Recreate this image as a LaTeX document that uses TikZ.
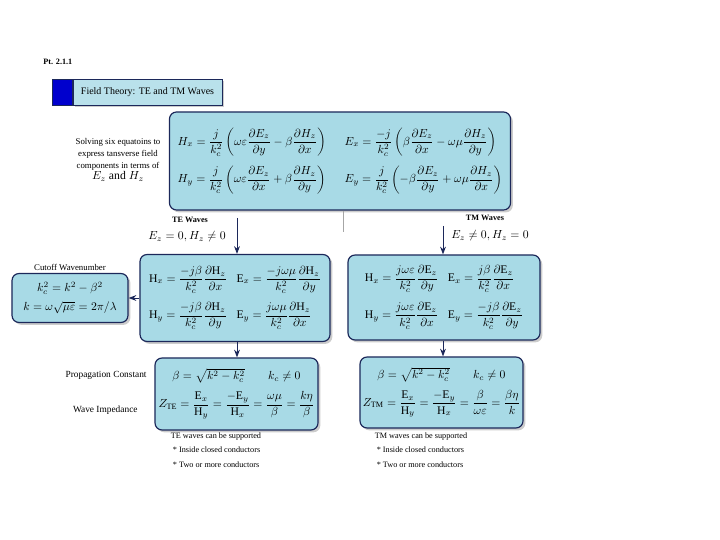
\documentclass[tikz,border=0pt]{standalone}
\usepackage{amsmath}
\usepackage{fontspec}
\setmainfont{Liberation Serif}
\usetikzlibrary{arrows.meta,positioning,shadows}
\definecolor{boxfill}{RGB}{168,218,230}
\definecolor{boxline}{RGB}{28,40,90}
\definecolor{tabblue}{RGB}{0,0,205}
\tikzset{
  wave/.style={rectangle, rounded corners=6pt, draw=boxline, line width=1pt, fill=boxfill, align=center, inner sep=2pt, font=\fontsize{10}{12}\selectfont, drop shadow={shadow xshift=2pt, shadow yshift=-2pt, fill=black!40}},
  titlebox/.style={rectangle, draw=boxline, line width=0.6pt, fill=boxfill!80, minimum width=4.47cm, minimum height=0.78cm, font=\fontsize{8.5}{10}\selectfont, drop shadow={shadow xshift=2pt, shadow yshift=-2pt, fill=black!40}},
  titletab/.style={rectangle, draw=boxline, line width=0.6pt, fill=tabblue, minimum width=0.6cm, minimum height=0.78cm, inner sep=0pt},
  lbl/.style={align=center, font=\fontsize{7.5}{10}\selectfont, inner sep=1pt},
  head/.style={font=\bfseries\fontsize{7}{8}\selectfont, inner sep=1pt},
  cond/.style={font=\fontsize{10}{12}\selectfont, inner sep=1pt},
  arr/.style={-Stealth, draw=boxline, line width=0.8pt}
}

\begin{document}
\begin{tikzpicture}[x=0.03cm, y=-0.03cm]
\useasboundingbox (0,0) rectangle (720,540);
\node[head, anchor=west] (part) at (42,62) {Pt. 2.1.1};
\node[titlebox] (title) at (147.5,92) {Field Theory: TE and TM Waves};
\node[titletab, left=0pt of title] (tab) {};
% general field components
\node[wave, minimum width=9.9cm, minimum height=2.94cm] (general) at (340,161) {$\begin{array}{l@{\hspace{16pt}}l}
H_x=\dfrac{j}{k_c^2}\left(\omega\varepsilon\dfrac{\partial E_z}{\partial y}-\beta\dfrac{\partial H_z}{\partial x}\right) &
E_x=\dfrac{-j}{k_c^2}\left(\beta\dfrac{\partial E_z}{\partial x}-\omega\mu\dfrac{\partial H_z}{\partial y}\right)\\[14pt]
H_y=\dfrac{j}{k_c^2}\left(\omega\varepsilon\dfrac{\partial E_z}{\partial x}+\beta\dfrac{\partial H_z}{\partial y}\right) &
E_y=\dfrac{j}{k_c^2}\left(-\beta\dfrac{\partial E_z}{\partial y}+\omega\mu\dfrac{\partial H_z}{\partial x}\right)
\end{array}$};
\node[lbl] (solve) at (118,160) {Solving six equatoins to\\express tansverse field\\components in terms of\\{\fontsize{10}{12}\selectfont $E_z$ and $H_z$}};
\coordinate (split) at (343,232);
\draw[gray!70, line width=0.6pt] (split |- general.south) -- (split);
% TE branch
\node[head] (telbl) at (190,220) {TE Waves};
\node[cond] (tecond) at (187,237) {$E_z=0, H_z\neq 0$};
\node[wave, minimum width=5.7cm, minimum height=2.61cm] (te) at (235,298) {$\begin{array}{l@{\hspace{8pt}}l}
\mathrm{H}_x=\dfrac{-j\beta}{k_c^2}\dfrac{\partial \mathrm{H}_z}{\partial x} &
\mathrm{E}_x=\dfrac{-j\omega\mu}{k_c^2}\dfrac{\partial \mathrm{H}_z}{\partial y}\\[14pt]
\mathrm{H}_y=\dfrac{-j\beta}{k_c^2}\dfrac{\partial \mathrm{H}_z}{\partial y} &
\mathrm{E}_y=\dfrac{j\omega\mu}{k_c^2}\dfrac{\partial \mathrm{H}_z}{\partial x}
\end{array}$};
\coordinate (tein) at (237,218);
\draw[arr] (tein) -- (tein |- te.north);
\node[lbl] (cutlbl) at (70,267) {Cutoff Wavenumber};
\node[wave, minimum width=3.48cm, minimum height=1.47cm] (cutoff) at (70,298) {$k_c^2=k^2-\beta^2$\\[4pt]$k=\omega\sqrt{\mu\varepsilon}=2\pi/\lambda$};
\draw[arr] (te.west) -- (cutoff.east);
\node[wave, minimum width=4.89cm, minimum height=2.16cm] (teprop) at (236.5,394) {$\beta=\sqrt{k^2-k_c^2}\qquad k_c\neq 0$\\[6pt]$Z_{\mathrm{TE}}=\dfrac{\mathrm{E}_x}{\mathrm{H}_y}=\dfrac{-\mathrm{E}_y}{\mathrm{H}_x}=\dfrac{\omega\mu}{\beta}=\dfrac{k\eta}{\beta}$};
\draw[arr] (tein |- te.south) -- (tein |- teprop.north);
\node[lbl, anchor=east, font=\fontsize{8}{10}\selectfont] (proplbl) at (148,375) {Propagation Constant};
\node[lbl, anchor=east, font=\fontsize{8}{10}\selectfont] (implbl) at (139,410) {Wave Impedance};
\node[lbl, align=left, anchor=north, font=\fontsize{7}{12.5}\selectfont] (tenote) at (216,431) {TE waves can be supported\\\ * Inside closed conductors\\\ * Two or more conductors};
% TM branch
\node[head] (tmlbl) at (485,218) {TM Waves};
\node[cond] (tmcond) at (490,236) {$E_z\neq 0, H_z=0$};
\node[wave, minimum width=5.76cm, minimum height=2.55cm] (tm) at (444,297.5) {$\begin{array}{l@{\hspace{8pt}}l}
\mathrm{H}_x=\dfrac{j\omega\varepsilon}{k_c^2}\dfrac{\partial \mathrm{E}_z}{\partial y} &
\mathrm{E}_x=\dfrac{j\beta}{k_c^2}\dfrac{\partial \mathrm{E}_z}{\partial x}\\[14pt]
\mathrm{H}_y=\dfrac{j\omega\varepsilon}{k_c^2}\dfrac{\partial \mathrm{E}_z}{\partial x} &
\mathrm{E}_y=\dfrac{-j\beta}{k_c^2}\dfrac{\partial \mathrm{E}_z}{\partial y}
\end{array}$};
\coordinate (tmin) at (443,226);
\draw[arr] (tmin) -- (tmin |- tm.north);
\node[wave, minimum width=4.89cm, minimum height=2.13cm] (tmprop) at (441.5,392.5) {$\beta=\sqrt{k^2-k_c^2}\qquad k_c\neq 0$\\[6pt]$Z_{\mathrm{TM}}=\dfrac{\mathrm{E}_x}{\mathrm{H}_y}=\dfrac{-\mathrm{E}_y}{\mathrm{H}_x}=\dfrac{\beta}{\omega\varepsilon}=\dfrac{\beta\eta}{k}$};
\draw[arr] (tmin |- tm.south) -- (tmin |- tmprop.north);
\node[lbl, align=left, anchor=north, font=\fontsize{7}{12.5}\selectfont] (tmnote) at (421,431) {TM waves can be supported\\\ * Inside closed conductors\\\ * Two or more conductors};
\end{tikzpicture}
\end{document}
